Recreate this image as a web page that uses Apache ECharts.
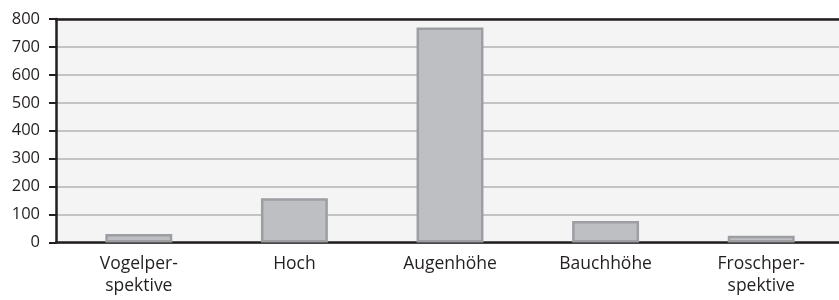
<!DOCTYPE html>
<html>
<head>
<meta charset="utf-8">
<script src="https://cdn.jsdelivr.net/npm/echarts@6/dist/echarts.min.js"></script>
<style>html,body{margin:0;padding:0;background:#fff}#c{width:839px;height:300px}</style>
</head>
<body>
<div id="c"></div>
<script>
var categories = ['Vogelper-\nspektive', 'Hoch', 'Augenhöhe', 'Bauchhöhe', 'Froschper-\nspektive'];
var values = [30, 158, 770, 77, 24];
var yTicks = [0, 100, 200, 300, 400, 500, 600, 700, 800];

var font = 'Open Sans';
var ink = '#231f20';
var chart = echarts.init(document.getElementById('c'), null, {renderer: 'canvas'});
chart.setOption({
  animation: false,
  grid: [
    {left: 56, right: 0, top: 19, bottom: 57.5, show: true, backgroundColor: '#f4f4f4', borderWidth: 0},
    {left: 61, width: 780, top: 19, bottom: 57.5}
  ],
  xAxis: [{
    gridIndex: 0,
    type: 'category',
    data: categories,
    axisLine: {lineStyle: {color: ink, width: 2.5}},
    axisTick: {show: false},
    axisLabel: {show: false}
  }, {
    gridIndex: 0,
    type: 'category',
    position: 'top',
    data: categories,
    axisLine: {show: true, onZero: false, lineStyle: {color: ink, width: 2.5}},
    axisTick: {show: false},
    axisLabel: {show: false}
  }, {
    gridIndex: 1,
    type: 'category',
    data: categories,
    axisLine: {show: false},
    axisTick: {show: false},
    axisLabel: {fontFamily: font, fontSize: 17.5, color: ink, margin: 11, lineHeight: 22}
  }],
  yAxis: [{
    gridIndex: 0,
    type: 'value',
    min: 0, max: 800, interval: 100,
    axisLine: {show: true, lineStyle: {color: ink, width: 2.5}},
    axisTick: {show: true, length: 7, lineStyle: {color: ink, width: 2}},
    axisLabel: {fontFamily: font, fontSize: 16.5, color: ink, margin: 16,
      formatter: function (v) { return yTicks.indexOf(v) >= 0 ? String(v) : ''; }},
    splitLine: {show: true, lineStyle: {color: '#c3c3c5', width: 2}}
  }, {
    gridIndex: 1,
    type: 'value',
    min: 0, max: 800, interval: 100,
    show: false
  }],
  series: [{
    type: 'bar',
    xAxisIndex: 2,
    yAxisIndex: 1,
    data: values,
    barCategoryGap: '57%',
    itemStyle: {color: '#bebfc3', borderColor: '#9d9ea2', borderWidth: 2.5}
  }]
});
</script>
</body>
</html>
